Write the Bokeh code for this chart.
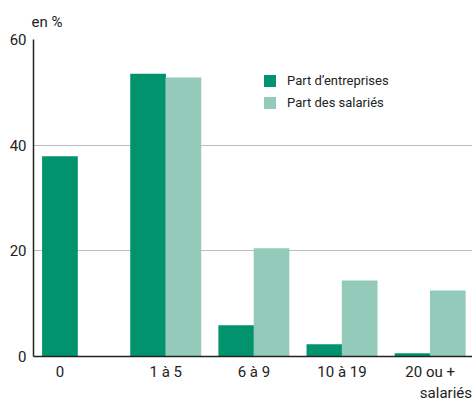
from bokeh.plotting import figure
from bokeh.models import ColumnDataSource, FixedTicker, LinearAxis, Legend, LegendItem, Range1d
from bokeh.embed import file_html
from bokeh.resources import INLINE

categories = ["0", "1 à 5", "6 à 9", "10 à 19", "20 ou +"]
part_entreprises = [37.9, 53.5, 5.9, 2.3, 0.6]
part_salaries = [0.0, 52.8, 20.5, 14.4, 12.5]
y_ticks = [0, 20, 40, 60]
unit_label = "en %"
last_cat_suffix = "salariés"

DARK = "#00936E"
LIGHT = "#94CAB9"
FONT = "Roboto"
TXT = "#222222"

idx = list(range(len(categories)))
src = ColumnDataSource(dict(
    xd=[i - 0.2 for i in idx], xl=[i + 0.2 for i in idx],
    ent=part_entreprises, sal=part_salaries))

p = figure(width=472, height=404, output_backend="svg", toolbar_location=None,
           x_range=Range1d(-0.5, 4.48), y_range=Range1d(0, 60),
           min_border_left=33, min_border_right=0, min_border_top=39, min_border_bottom=44,
           title=unit_label)
p.outline_line_color = None
p.title.align = "left"
p.title.offset = -2
p.title.standoff = 17
p.title.text_font = FONT
p.title.text_font_size = "15px"
p.title.text_font_style = "normal"
p.title.text_color = TXT

r1 = p.vbar(x="xd", top="ent", width=0.405, source=src, fill_color=DARK, line_color=None)
r2 = p.vbar(x="xl", top="sal", width=0.405, source=src, fill_color=LIGHT, line_color=None)

tick_pos = [-0.2] + idx[1:]
p.xaxis.ticker = FixedTicker(ticks=tick_pos)
p.xaxis.major_label_overrides = {t: c for t, c in zip(tick_pos, categories)}
p.yaxis.ticker = FixedTicker(ticks=y_ticks)

# secondary axis row carrying the second line of the last category label
suffix_pos = idx[-1] + 0.19
ax2 = LinearAxis(ticker=FixedTicker(ticks=[suffix_pos]),
                 major_label_overrides={suffix_pos: last_cat_suffix})
p.add_layout(ax2, "below")

for ax in (p.xaxis[0], p.yaxis[0], ax2):
    ax.axis_line_color = TXT
    ax.axis_line_width = 1.5
    ax.major_tick_in = 0
    ax.major_tick_out = 0
    ax.minor_tick_in = 0
    ax.minor_tick_out = 0
    ax.major_label_text_font = FONT
    ax.major_label_text_font_size = "15px"
    ax.major_label_text_color = TXT
ax2.axis_line_color = None
ax2.major_label_standoff = 0
p.xaxis[0].major_label_standoff = 6
p.yaxis.major_label_standoff = 7

p.xgrid.grid_line_color = None
p.ygrid.grid_line_color = "#BBBBBB"
p.ygrid.grid_line_width = 1

legend = Legend(items=[LegendItem(label="Part d\u2019entreprises", renderers=[r1]),
                       LegendItem(label="Part des salariés", renderers=[r2])],
                location=(229, 246), padding=0, margin=0, spacing=7,
                glyph_width=15, glyph_height=15, label_height=15, label_standoff=10,
                label_text_font=FONT, label_text_font_size="13px",
                label_text_color=TXT,
                border_line_color=None, background_fill_alpha=0)
p.add_layout(legend)

open("out.html", "w").write(file_html(p, INLINE))
